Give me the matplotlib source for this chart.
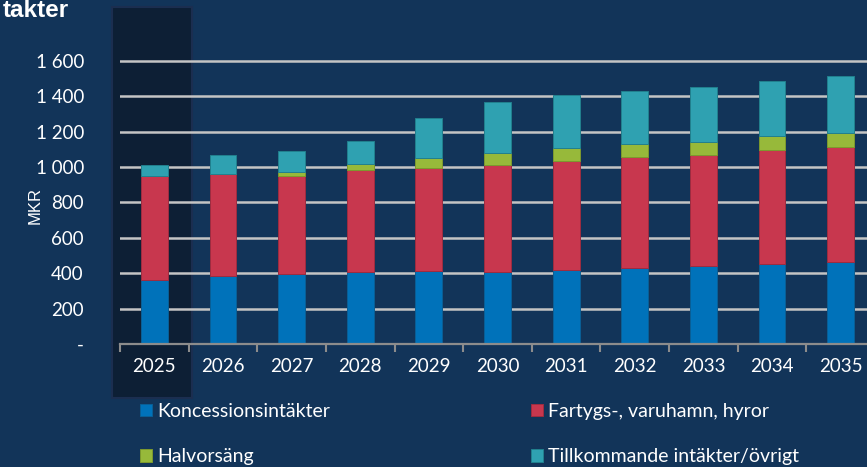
import matplotlib.pyplot as plt
from matplotlib.patches import Rectangle
from matplotlib.ticker import FuncFormatter
import numpy as np

years = ["2025", "2026", "2027", "2028", "2029", "2030", "2031", "2032", "2033", "2034", "2035"]
koncession = [363, 386, 395, 407, 412, 409, 418, 430, 439, 450, 463]
fartygs = [584, 574, 552, 579, 584, 605, 618, 627, 629, 648, 650]
halvorsang = [0, 0, 23, 34, 57, 66, 74, 75, 76, 76, 80]
tillkommande = [66, 108, 120, 127, 225, 290, 298, 300, 309, 315, 320]

names = ["Koncessionsintäkter", "Fartygs-, varuhamn, hyror", "Halvorsäng", "Tillkommande intäkter/övrigt"]
colors = ["#0072ba", "#c8374e", "#97b93a", "#2fa1b1"]
edges = ["#0a5f96", "#9e2c40", "#7d9a2e", "#22808e"]

bg = "#123459"
txt = "white"
base_font = ["Lato", "DejaVu Sans"]

fig = plt.figure(figsize=(8.67, 4.67), dpi=100, facecolor=bg)

# mörk markering bakom 2025
fig.patches.append(Rectangle((112 / 867, 1 - 398 / 467), 80 / 867, 391 / 467,
                             transform=fig.transFigure, facecolor="#0d1f35",
                             edgecolor="#1b2e50", linewidth=1.5, zorder=0.5))

ax = fig.add_axes([120 / 867, 123 / 467, 755 / 867, 300.7 / 467], zorder=1)
ax.patch.set_visible(False)

x = np.arange(len(years))
w = 0.39
bottom = np.zeros(len(years))
bars = []
for vals, c, e, n in zip([koncession, fartygs, halvorsang, tillkommande], colors, edges, names):
    b = ax.bar(x, vals, w, bottom=bottom, color=c, edgecolor=e, linewidth=0.7, label=n, zorder=3)
    bars.append(b)
    bottom += np.array(vals)

ax.set_xlim(-0.5, len(years) - 0.5)
ax.set_ylim(0, 1700)
ax.set_yticks([0, 200, 400, 600, 800, 1000, 1200, 1400, 1600])
ax.yaxis.set_major_formatter(FuncFormatter(
    lambda v, p: "-" if v == 0 else f"{int(v):,}".replace(",", " ")))
ax.grid(axis="y", color="#c4c4c4", linewidth=1.8, zorder=1)
ax.set_axisbelow(True)

for s in ["top", "right", "left"]:
    ax.spines[s].set_visible(False)
ax.spines["bottom"].set_color("#8c8c8c")
ax.spines["bottom"].set_linewidth(1.6)
ax.spines["bottom"].set_zorder(4)

ax.set_xticks(x)
ax.set_xticklabels(years)
ax.set_xticks(np.arange(-0.5, len(years), 1), minor=True)
ax.tick_params(axis="x", which="major", length=0, pad=10, labelsize=13.5, labelcolor=txt)
ax.tick_params(axis="x", which="minor", length=6, width=1.5, color="#8c8c8c", direction="out")
ax.tick_params(axis="y", length=0, pad=26, labelsize=13.5, labelcolor=txt)
for lab in ax.get_xticklabels() + ax.get_yticklabels():
    lab.set_family(base_font)

fig.text(35 / 867, 1 - 205 / 467, "MKR", rotation=90, color=txt, fontsize=12,
         family=["Liberation Sans", "DejaVu Sans"], ha="center", va="center")
fig.text(3 / 867, 1 + 1 / 467, "takter", color=txt, fontsize=17.5, weight="bold",
         family=["Liberation Sans", "DejaVu Sans"], ha="left", va="top")

leg_kw = dict(loc="upper left", frameon=False, borderpad=0, borderaxespad=0,
              handlelength=0.6, handleheight=0.6, handletextpad=0.3,
              labelspacing=1.45, labelcolor=txt,
              prop={"family": base_font, "size": 14})
fig.legend([bars[0], bars[2]], [names[0], names[2]],
           bbox_to_anchor=(140 / 867, 1 - 403 / 467), **leg_kw)
fig.legend([bars[1], bars[3]], [names[1], names[3]],
           bbox_to_anchor=(531 / 867, 1 - 403 / 467), **leg_kw)

fig.savefig("out.png", dpi=100, facecolor=bg)
